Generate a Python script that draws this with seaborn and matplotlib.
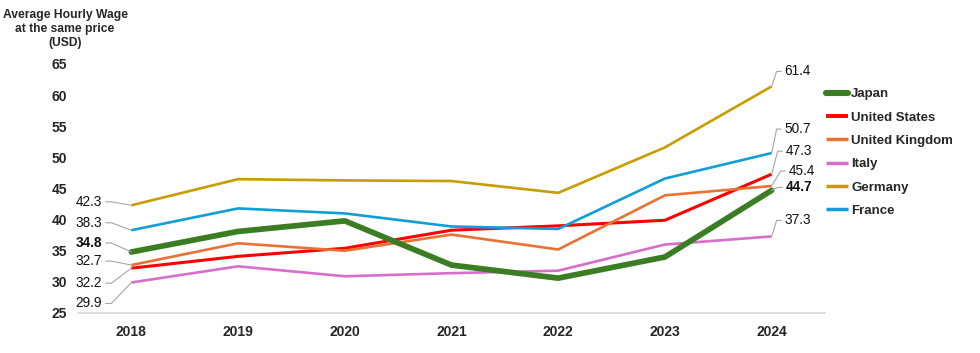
import math
import pandas as pd
import matplotlib
matplotlib.use('Agg')
import matplotlib.pyplot as plt
import seaborn as sns
from matplotlib.lines import Line2D

# data
years = ['2018', '2019', '2020', '2021', '2022', '2023', '2024']
japan = [34.8, 38.1, 39.8, 32.7, 30.6, 34.0, 44.7]
united_states = [32.2, 34.1, 35.4, 38.3, 39.0, 39.9, 47.3]
united_kingdom = [32.7, 36.2, 35.0, 37.6, 35.2, 43.9, 45.4]
italy = [29.9, 32.5, 30.9, 31.4, 31.8, 36.0, 37.3]
germany = [42.3, 46.5, 46.3, 46.2, 44.3, 51.6, 61.4]
france = [38.3, 41.8, 41.0, 38.9, 38.5, 46.6, 50.7]

countries = ['Japan', 'United States', 'United Kingdom', 'Italy', 'Germany', 'France']
series = [japan, united_states, united_kingdom, italy, germany, france]

df = pd.DataFrame({
    'Year': years * len(countries),
    'Country': [c for c in countries for _ in years],
    'Wage': [v for s in series for v in s],
})

# styles
colors = {
    'Japan': '#3b7d23',
    'United States': '#ff0000',
    'United Kingdom': '#e97132',
    'Italy': '#d86ecc',
    'Germany': '#c89d00',
    'France': '#0f9ed5',
}
widths = {c: 1.9 for c in countries}
widths['Japan'] = 4.1
widths['United States'] = 2.2

# label offsets in pixels (dx, dy) for first / last point
left_off = {
    'Germany': (-29, 3.5), 'France': (-29, 7.5), 'Japan': (-29, 9),
    'United Kingdom': (-29, 4), 'United States': (-29, -15), 'Italy': (-29, -21),
}
right_off = {
    'Germany': (13, 15), 'France': (13, 24), 'United States': (14, 23),
    'United Kingdom': (17, 15), 'Japan': (14, 3), 'Italy': (13, 16),
}

sns.set_style('white')
plt.rcParams['font.family'] = ['Liberation Sans', 'DejaVu Sans']

fig = plt.figure(figsize=(9.8, 3.53), dpi=100)
ax = fig.add_axes([78 / 980, 1 - 313 / 353, (825 - 78) / 980, (313 - 64) / 353])

# draw Japan last so it sits on top
for c in countries[1:] + countries[:1]:
    sns.lineplot(data=df[df['Country'] == c], x='Year', y='Wage',
                 color=colors[c], linewidth=widths[c], ax=ax, legend=False,
                 sort=False, solid_capstyle='round' if c == 'Japan' else 'butt')

ax.set_xlim(-0.5, len(years) - 0.5)
ax.set_ylim(25, 65)
ax.set_yticks(range(25, 66, 5))
ax.set_xlabel('')
ax.set_ylabel('')
for s in ['top', 'right', 'left']:
    ax.spines[s].set_visible(False)
ax.spines['bottom'].set_color('#d9d9d9')
ax.spines['bottom'].set_linewidth(1.2)
ax.tick_params(axis='both', length=0, labelsize=10)
ax.tick_params(axis='y', pad=8)
ax.tick_params(axis='x', pad=9)
for lab in ax.get_xticklabels() + ax.get_yticklabels():
    lab.set_fontweight('bold')


def leader(country, value, xi, off, side):
    dx, dy = off
    h = 9 if side == 'left' else -8
    bold = 'bold' if country == 'Japan' else 'normal'
    if abs(dy) > 1:
        ang = math.degrees(math.atan2(-dy, -(dx + h)))
        cs = f'angle,angleA=0,angleB={ang},rad=0'
    else:
        cs = 'arc3'
    ax.annotate(f'{value:.1f}', xy=(xi, value), xytext=(dx, dy),
                textcoords='offset pixels',
                ha='right' if side == 'left' else 'left', va='center',
                fontsize=9.8, fontweight=bold, color='#111111',
                arrowprops=dict(arrowstyle='-', color='#a6a6a6', lw=0.8,
                                shrinkA=0, shrinkB=0, connectionstyle=cs,
                                relpos=(1, 0.5) if side == 'left' else (0, 0.5)))


for c, s in zip(countries, series):
    leader(c, s[0], 0, left_off[c], 'left')
    leader(c, s[-1], len(years) - 1, right_off[c], 'right')

# axis title top-left
fig.text(65 / 980, 1 - 29 / 353, 'Average Hourly Wage\nat the same price\n(USD)',
         ha='center', va='center', fontsize=8.7, fontweight='bold',
         linespacing=1.22)

handles = [Line2D([], [], color=colors[c], linewidth=widths[c] + (0.3 if c == 'Japan' else 0.6),
                  solid_capstyle='round' if c == 'Japan' else 'butt') for c in countries]
fig.legend(handles, countries, loc='upper left',
           bbox_to_anchor=(826 / 980, 1 - 88 / 353), frameon=False,
           prop={'weight': 'bold', 'size': 9.5}, handlelength=1.7,
           handletextpad=0.2, labelspacing=0.84, borderpad=0, borderaxespad=0)

fig.savefig('out.png', dpi=100)
